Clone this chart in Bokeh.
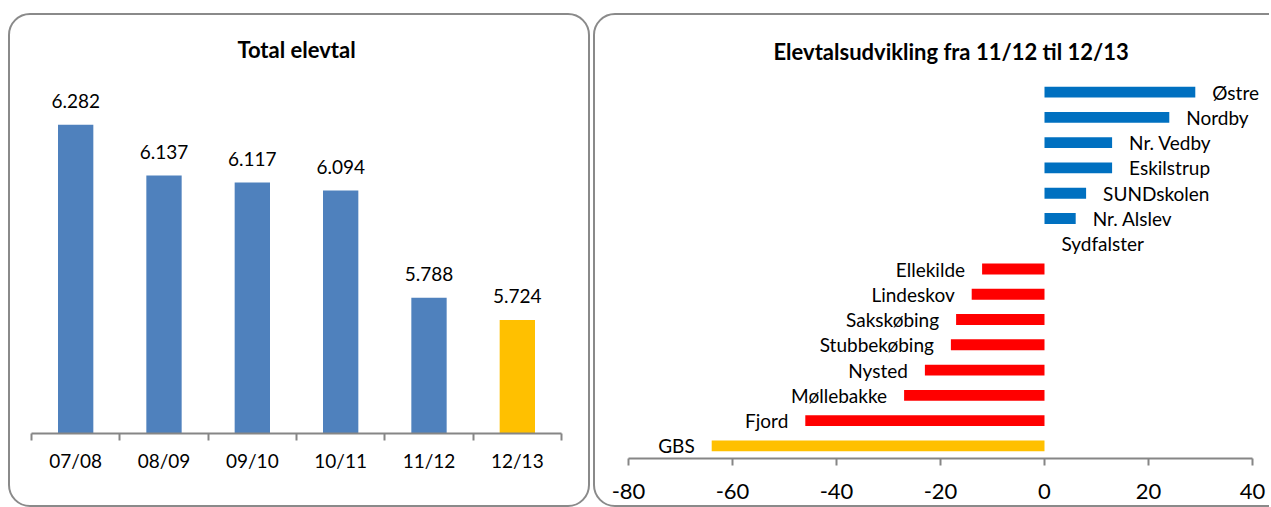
from bokeh.plotting import figure
from bokeh.models import FixedTicker, ColumnDataSource, LabelSet, Range1d, FactorRange
from bokeh.core.properties import value
from bokeh.layouts import row
from bokeh.embed import file_html
from bokeh.resources import INLINE

# ---------------- data ----------------
seasons = ["07/08", "08/09", "09/10", "10/11", "11/12", "12/13"]
totals = [6282, 6137, 6117, 6094, 5788, 5724]
total_labels = ["6.282", "6.137", "6.117", "6.094", "5.788", "5.724"]
total_colors = ["#4F81BD", "#4F81BD", "#4F81BD", "#4F81BD", "#4F81BD", "#FFC000"]
total_axis_min = 5400
total_axis_max = 6400

schools = ["GBS", "Fjord", "Møllebakke", "Nysted", "Stubbekøbing", "Sakskøbing",
           "Lindeskov", "Ellekilde", "Sydfalster", "Nr. Alslev", "SUNDskolen",
           "Eskilstrup", "Nr. Vedby", "Nordby", "Østre"]
change = [-64, -46, -27, -23, -18, -17, -14, -12, 0, 6, 8, 13, 13, 24, 29]
change_colors = ["#FFC000", "#FF0000", "#FF0000", "#FF0000", "#FF0000", "#FF0000",
                 "#FF0000", "#FF0000", "#0070C0", "#0070C0", "#0070C0", "#0070C0",
                 "#0070C0", "#0070C0", "#0070C0"]
change_ticks = [-80, -60, -40, -20, 0, 20, 40]
change_tick_labels = ["-80", "-60", "-40", "-20", "0", "20", "40"]

FONT = "Lato"
GRAY = "#868686"
LEFT_STYLE = {"outline": "2px solid #8a8a8a", "outline-offset": "-2px",
              "border-radius": "22px", "overflow": "hidden"}
RIGHT_STYLE = {"outline": "2px solid #8a8a8a", "outline-offset": "-2px",
               "border-radius": "22px 0 0 22px", "overflow": "hidden",
               "clip-path": "inset(0 2px 0 0)"}

# ---------------- left chart ----------------
centers = [i + 0.5 for i in range(len(seasons))]
src1 = ColumnDataSource(dict(x=centers, top=totals, label=total_labels, color=total_colors))

p1 = figure(width=582, height=494, x_range=Range1d(0, len(seasons)),
            y_range=Range1d(total_axis_min, total_axis_max),
            output_backend="svg", toolbar_location=None, y_axis_location=None,
            frame_align=False,
            min_border_left=23, min_border_right=29, min_border_top=69, min_border_bottom=74)
p1.vbar(x="x", top="top", bottom=total_axis_min, width=0.4, fill_color="color",
        line_color=None, source=src1)
p1.add_layout(LabelSet(x="x", y="top", text="label", source=src1, text_align="center",
                       text_baseline="middle", y_offset=24, text_font=value(FONT),
                       text_font_size=value("19px"), text_color="black"))
p1.title.text = "Total elevtal"
p1.title.align = "center"
p1.title.text_font = FONT
p1.title.text_font_style = "bold"
p1.title.text_font_size = "22px"
p1.title.text_color = "black"
p1.title.standoff = 41
ax = p1.xaxis[0]
ax.ticker = FixedTicker(ticks=centers, minor_ticks=list(range(len(seasons) + 1)))
ax.major_label_overrides = {c: s for c, s in zip(centers, seasons)}
ax.major_tick_out = 0
ax.major_tick_in = 0
ax.minor_tick_out = 7
ax.minor_tick_in = 0
ax.minor_tick_line_color = GRAY
ax.minor_tick_line_width = 2
ax.axis_line_color = GRAY
ax.axis_line_width = 2
ax.major_label_standoff = 8
ax.major_label_text_font = FONT
ax.major_label_text_font_size = "19px"
ax.major_label_text_color = "black"
p1.xgrid.visible = False
p1.ygrid.visible = False
p1.outline_line_color = None
p1.border_fill_color = None
p1.background_fill_color = None
p1.styles = LEFT_STYLE

# ---------------- right chart ----------------
pos = [i for i, v in enumerate(change) if v >= 0]
neg = [i for i, v in enumerate(change) if v < 0]
src2 = ColumnDataSource(dict(y=schools, right=change, color=change_colors))
src_pos = ColumnDataSource(dict(y=[schools[i] for i in pos], x=[change[i] for i in pos],
                                label=[schools[i] for i in pos]))
src_neg = ColumnDataSource(dict(y=[schools[i] for i in neg], x=[change[i] for i in neg],
                                label=[schools[i] for i in neg]))

# frame is extended a little beyond 40 so that the labels right of the bars are not clipped;
# the axis line itself stops at 40 (bounds)
x_pad_right = 3.27
p2 = figure(width=678, height=494,
            x_range=Range1d(change_ticks[0], change_ticks[-1] + x_pad_right),
            y_range=FactorRange(factors=schools),
            output_backend="svg", toolbar_location=None, y_axis_location=None,
            frame_align=False,
            min_border_left=35, min_border_right=2, min_border_top=66, min_border_bottom=49)
p2.hbar(y="y", right="right", left=0, height=0.43, fill_color="color", line_color=None,
        source=src2)
p2.add_layout(LabelSet(x="x", y="y", text="label", source=src_pos, text_align="left",
                       text_baseline="middle", x_offset=17, text_font=value(FONT),
                       text_font_size=value("19px"), text_color="black"))
p2.add_layout(LabelSet(x="x", y="y", text="label", source=src_neg, text_align="right",
                       text_baseline="middle", x_offset=-17, text_font=value(FONT),
                       text_font_size=value("19px"), text_color="black"))
p2.title.text = "Elevtalsudvikling fra 11/12 til 12/13"
p2.title.align = "left"
p2.title.offset = 145
p2.title.text_font = FONT
p2.title.text_font_style = "bold"
p2.title.text_font_size = "22px"
p2.title.text_color = "black"
p2.title.standoff = 30
bx = p2.xaxis[0]
bx.bounds = (change_ticks[0], change_ticks[-1])
bx.ticker = FixedTicker(ticks=change_ticks, minor_ticks=[])
bx.major_label_overrides = {t: s for t, s in zip(change_ticks, change_tick_labels)}
bx.major_tick_out = 7
bx.major_tick_in = 0
bx.major_tick_line_color = GRAY
bx.major_tick_line_width = 2
bx.axis_line_color = GRAY
bx.axis_line_width = 2
bx.major_label_standoff = 18
bx.major_label_text_font = FONT
bx.major_label_text_font_size = "22px"
bx.major_label_text_color = "black"
p2.xgrid.visible = False
p2.ygrid.visible = False
p2.outline_line_color = None
p2.border_fill_color = None
p2.background_fill_color = None
p2.styles = RIGHT_STYLE

layout = row(p1, p2, spacing=3, margin=(13, 0, 0, 8))
open("out.html", "w").write(file_html(layout, INLINE))
